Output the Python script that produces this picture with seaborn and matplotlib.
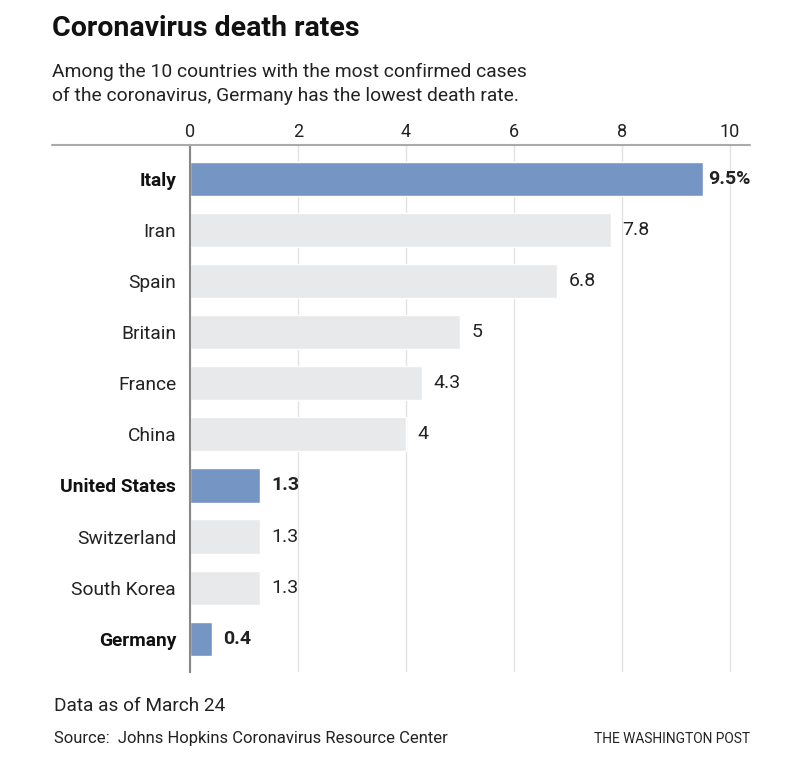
import pandas as pd
import seaborn as sns
import matplotlib.pyplot as plt
from matplotlib import font_manager

countries = ['Italy', 'Iran', 'Spain', 'Britain', 'France', 'China',
             'United States', 'Switzerland', 'South Korea', 'Germany']
death_rates = [9.5, 7.8, 6.8, 5, 4.3, 4, 1.3, 1.3, 1.3, 0.4]
value_labels = ['9.5%', '7.8', '6.8', '5', '4.3', '4', '1.3', '1.3', '1.3', '0.4']
highlight = ['Italy', 'United States', 'Germany']

names = {f.name for f in font_manager.fontManager.ttflist}
font = 'Liberation Sans Narrow' if 'Liberation Sans Narrow' in names else 'Roboto'

blue = '#7596c4'
grey = '#e8e9ea'

df = pd.DataFrame({'country': countries, 'rate': death_rates})
palette = {c: (blue if c in highlight else grey) for c in countries}

sns.set_style('white')
plt.rcParams['font.family'] = [font, 'DejaVu Sans']

fig = plt.figure(figsize=(8, 7.67), dpi=100)
ax = fig.add_axes([0.2375, 0.1239, 0.70, 0.6871])

sns.barplot(data=df, x='rate', y='country', hue='country', palette=palette,
            legend=False, width=0.67, saturation=1, ax=ax, zorder=2)

ax.set_xlim(0, 10.37)
ax.set_ylim(9.65, -0.66)
ax.set_xticks([0, 2, 4, 6, 8, 10])
ax.xaxis.tick_top()
ax.tick_params(axis='x', length=0, labelsize=13, colors='#222222', pad=3)
ax.tick_params(axis='y', length=0, labelsize=13.8, colors='#222222', pad=10)
ax.set_xlabel('')
ax.set_ylabel('')
ax.grid(axis='x', color='#e2e2e2', linewidth=1, zorder=0)
for s in ['top', 'right', 'bottom']:
    ax.spines[s].set_visible(False)
ax.spines['left'].set_color('#888888')
ax.spines['left'].set_linewidth(1.5)
ax.spines['left'].set_zorder(3)

for lbl in ax.get_yticklabels():
    if lbl.get_text() in highlight:
        lbl.set_fontweight('bold')
        lbl.set_color('#111111')

for i, (v, t) in enumerate(zip(death_rates, value_labels)):
    bold = countries[i] in highlight
    # the top label sits tighter so it fits before the right edge
    gap = 0.1 if v > 9 else 0.21
    ax.text(v + gap, i, t, va='center', ha='left', fontsize=14,
            fontweight='bold' if bold else 'normal', color='#222222')

# top rule across the chart
fig.add_artist(plt.Line2D([52 / 800, 750 / 800], [1 - 145 / 767] * 2,
                          color='#aaaaaa', linewidth=1.5))

fig.text(52 / 800, 1 - 29 / 767, 'Coronavirus death rates', fontsize=20.5,
         fontweight='bold', va='center', ha='left', color='#111111')
fig.text(52 / 800, 1 - 84 / 767,
         'Among the 10 countries with the most confirmed cases\n'
         'of the coronavirus, Germany has the lowest death rate.',
         fontsize=13.9, va='center', ha='left', color='#222222', linespacing=1.4)
fig.text(54 / 800, 1 - 706 / 767, 'Data as of March 24', fontsize=13.7,
         va='center', ha='left', color='#222222')
fig.text(54 / 800, 1 - 739 / 767, 'Source:  Johns Hopkins Coronavirus Resource Center',
         fontsize=12, va='center', ha='left', color='#222222')
fig.text(750 / 800, 1 - 739 / 767, 'THE WASHINGTON POST', fontsize=9.9,
         va='center', ha='right', color='#222222')

fig.savefig('out.png', dpi=100, facecolor='white')
